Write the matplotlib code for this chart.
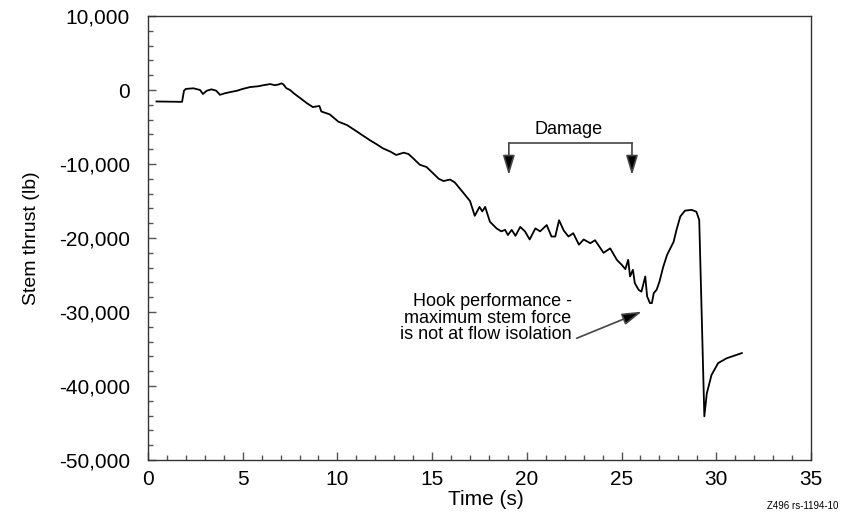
import matplotlib.pyplot as plt
from matplotlib.ticker import MultipleLocator, FuncFormatter

plt.rcParams['font.family'] = ['Liberation Sans', 'DejaVu Sans']

# stem thrust trace during the valve stroke
time_s = [0.45, 1.8, 1.9, 2.0, 2.4, 2.75, 2.9, 3.1, 3.35, 3.6, 3.8, 4.05, 4.4, 4.7,
          5.0, 5.4, 5.8, 6.1, 6.45, 6.7, 6.9, 7.05, 7.15, 7.3, 7.5, 7.7, 8.05, 8.4,
          8.7, 9.05, 9.15, 9.6, 10.05, 10.5, 10.85, 11.3, 11.7, 12.05, 12.4, 12.8,
          13.1, 13.5, 13.75, 14.0, 14.35, 14.7, 15.05, 15.35, 15.6, 15.95, 16.2,
          16.65, 17.0, 17.25, 17.5, 17.65, 17.8, 18.05, 18.4, 18.65, 18.85, 19.0,
          19.2, 19.4, 19.65, 19.9, 20.15, 20.45, 20.7, 21.05, 21.3, 21.5, 21.7,
          21.95, 22.2, 22.45, 22.75, 23.0, 23.35, 23.6, 24.05, 24.4, 24.75, 25.0,
          25.2, 25.35, 25.45, 25.6, 25.7, 25.9, 26.05, 26.25, 26.35, 26.5, 26.6,
          26.7, 26.85, 27.0, 27.2, 27.4, 27.75, 27.9, 28.1, 28.35, 28.7, 28.95,
          29.1, 29.22, 29.37, 29.5, 29.75, 30.1, 30.55, 31.35]
thrust_lb = [-1550, -1600, -100, 150, 230, 0, -540, -100, 90, -90, -650, -450, -250, -100,
             150, 400, 500, 650, 800, 650, 750, 900, 750, 250, 0, -450, -1120, -1800,
             -2300, -2160, -2900, -3300, -4280, -4730, -5310, -6080, -6760, -7300, -7880, -8330,
             -8780, -8470, -8650, -9230, -10100, -10400, -11250, -12000, -12300, -12100, -12500,
             -13900, -15000, -17000, -15800, -16400, -15800, -17800, -18700, -19100, -18900, -19600,
             -18900, -19700, -18500, -19100, -20200, -18700, -19100, -18250, -19800, -19800, -17600,
             -19000, -19800, -19350, -20900, -20200, -20700, -20300, -22000, -21400, -22950, -23600,
             -24200, -22950, -25200, -24300, -26100, -27000, -27250, -25200, -27900, -28800, -28800,
             -27450, -27000, -25900, -23900, -22300, -20500, -18900, -17100, -16300, -16200, -16450,
             -17550, -29300, -44100, -41000, -38500, -36900, -36250, -35550]

damage_start = 19.05
damage_end = 25.55

fig = plt.figure(figsize=(8.5, 5.13), dpi=100)
ax = fig.add_axes([0.1741, 0.1033, 0.78, 0.8655])
ax.plot(time_s, thrust_lb, color='black', lw=1.3)

ax.set_xlim(0, 35)
ax.set_ylim(-50000, 10000)
ax.xaxis.set_major_locator(MultipleLocator(5))
ax.xaxis.set_minor_locator(MultipleLocator(1))
ax.yaxis.set_major_locator(MultipleLocator(10000))
ax.yaxis.set_minor_locator(MultipleLocator(2000))
ax.yaxis.set_major_formatter(FuncFormatter(lambda v, p: f'{v:,.0f}'))
ax.tick_params(which='both', direction='in', top=False, right=False,
               labelsize=15, color='#555555', width=1)
ax.tick_params(which='major', length=6)
ax.tick_params(which='minor', length=3.5)
ax.tick_params(axis='y', which='major', pad=13)
ax.tick_params(axis='x', which='major', pad=7)
for sp in ax.spines.values():
    sp.set_linewidth(1.0)
    sp.set_color('#333333')

ax.set_xlabel('Time (s)', fontsize=15)
ax.set_ylabel('Stem thrust (lb)', fontsize=14)
ax.xaxis.set_label_coords(0.51, -0.068)
ax.yaxis.set_label_coords(-0.163, 0.5)

head = '-|>,head_length=0.6,head_width=0.18'

# damage bracket
ax.plot([damage_start, damage_end], [-7150, -7150], color='#444444', lw=1.2)
for t in (damage_start, damage_end):
    ax.annotate('', xy=(t, -11500), xytext=(t, -7150),
                arrowprops=dict(arrowstyle=head, mutation_scale=20, color='#444444',
                                fc='black', lw=1.2, shrinkA=0, shrinkB=0))
ax.text(22.2, -5300, 'Damage', ha='center', va='center', fontsize=13)

ax.text(22.36, -30840, 'Hook performance -\nmaximum stem force\nis not at flow isolation',
        ha='right', va='center', fontsize=13, linespacing=0.95)
ax.annotate('', xy=(26.07, -29950), xytext=(22.63, -33550),
            arrowprops=dict(arrowstyle=head, mutation_scale=20, color='#444444',
                            fc='black', lw=1.2, shrinkA=0, shrinkB=0))

fig.text(838 / 850, 1 - 506 / 513, 'Z496 rs-1194-10', ha='right', va='center', fontsize=7)

fig.savefig('out.png', dpi=100)
